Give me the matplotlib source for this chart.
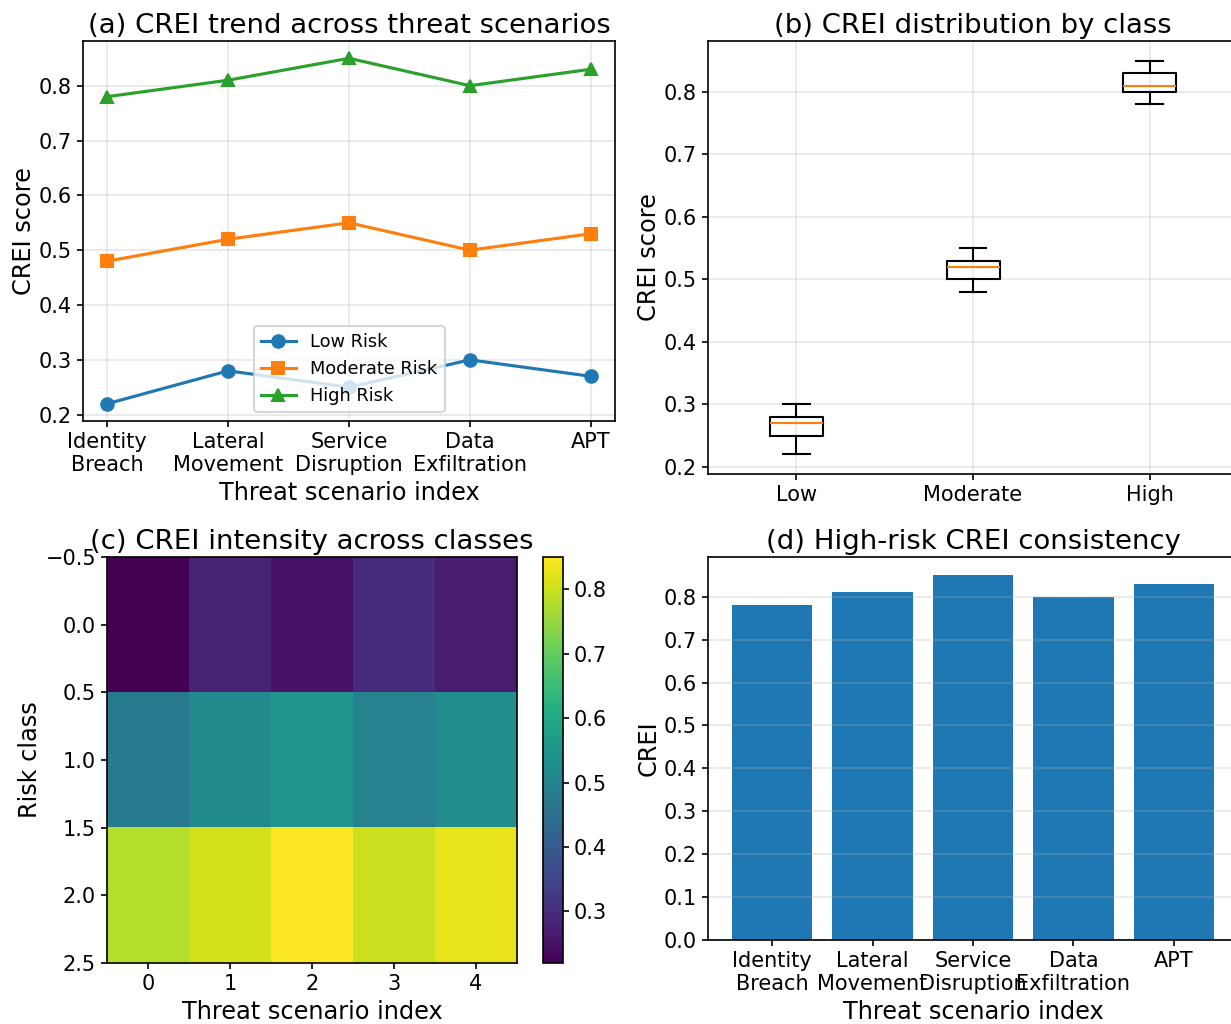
import numpy as np
import matplotlib
matplotlib.use("Agg")
import matplotlib.pyplot as plt

# CREI scores per threat scenario
scenarios = ["Identity\nBreach", "Lateral\nMovement", "Service\nDisruption",
             "Data\nExfiltration", "APT"]
low_risk = [0.22, 0.28, 0.25, 0.30, 0.27]
moderate_risk = [0.48, 0.52, 0.55, 0.50, 0.53]
high_risk = [0.78, 0.81, 0.85, 0.80, 0.83]
class_names = ["Low", "Moderate", "High"]

plt.rcParams["xtick.major.size"] = 2.9
plt.rcParams["ytick.major.size"] = 2.9
plt.rcParams["xtick.major.pad"] = 2.4
plt.rcParams["ytick.major.pad"] = 2.4
plt.rcParams["axes.titlepad"] = 4
plt.rcParams["axes.labelpad"] = 2.8

W, H = 1231, 1024
fig = plt.figure(figsize=(W / 150, H / 150), dpi=150)


def box(l, r, t, b):
    # pixel edges -> figure fraction
    return [l / W, 1 - b / H, (r - l) / W, (b - t) / H]


x = np.arange(len(scenarios))

# (a) trend lines
ax1 = fig.add_axes(box(83, 615, 41, 421))
ax1.plot(x, low_risk, marker="o", label="Low Risk")
ax1.plot(x, moderate_risk, marker="s", label="Moderate Risk")
ax1.plot(x, high_risk, marker="^", label="High Risk")
ax1.set_xticks(x)
ax1.set_xticklabels(scenarios)
ax1.set_xlabel("Threat scenario index", fontsize=11.5)
ax1.set_ylabel("CREI score", fontsize=11.5, labelpad=1.5)
ax1.set_title("(a) CREI trend across threat scenarios", fontsize=13.2)
ax1.legend(loc="lower center", fontsize=8.5)
ax1.grid(alpha=0.3)

# (b) boxplot by class
ax2 = fig.add_axes(box(708, 1238, 41, 474))
ax2.boxplot([low_risk, moderate_risk, high_risk])
ax2.set_xticks([1, 2, 3])
ax2.set_xticklabels(class_names)
ax2.set_ylabel("CREI score", fontsize=11.5, labelpad=1.5)
ax2.set_title("(b) CREI distribution by class", fontsize=13.2)
ax2.grid(alpha=0.3)

# (c) heatmap
ax3 = fig.add_axes(box(107, 517, 557, 963))
cax = fig.add_axes(box(543, 563, 557, 963))
mat = np.array([low_risk, moderate_risk, high_risk])
im = ax3.imshow(mat, aspect="auto", cmap="viridis")
fig.colorbar(im, cax=cax)
ax3.set_xlabel("Threat scenario index", fontsize=11.5)
ax3.set_ylabel("Risk class", fontsize=11.5, labelpad=1.5)
ax3.set_title("(c) CREI intensity across classes", fontsize=13.2)

# (d) high-risk bars
ax4 = fig.add_axes(box(708, 1238, 557, 940))
ax4.bar(x, high_risk)
ax4.set_xticks(x)
ax4.set_xticklabels(scenarios)
ax4.set_xlabel("Threat scenario index", fontsize=11.5)
ax4.set_ylabel("CREI", fontsize=11.5, labelpad=1.5)
ax4.set_title("(d) High-risk CREI consistency", fontsize=13.2)
ax4.grid(axis="y", alpha=0.3)

fig.savefig("out.png", dpi=150)
